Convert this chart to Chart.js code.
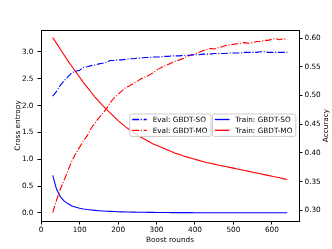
<!DOCTYPE html>
<html>
<head>
<meta charset="utf-8">
<script src="https://cdn.jsdelivr.net/npm/chart.js@4.4.1/dist/chart.umd.min.js"></script>
<style>
  html, body { margin: 0; padding: 0; background: #fff; }
  canvas { display: block; }
</style>
</head>
<body>
<canvas id="chart" width="332" height="249"></canvas>
<script>
// --- data ---

const rounds = [
  30, 40, 50, 60, 70, 80, 90, 100, 110, 120,
  130, 140, 150, 160, 170, 180, 190, 200, 210, 220,
  230, 240, 250, 260, 270, 280, 290, 300, 310, 320,
  330, 340, 350, 360, 370, 380, 390, 400, 410, 420,
  430, 440, 450, 460, 470, 480, 490, 500, 510, 520,
  530, 540, 550, 560, 570, 580, 590, 600, 610, 620,
  630, 640
];

// cross entropy (left axis)
const trainSO = [
  0.70, 0.44, 0.30, 0.22, 0.17, 0.13, 0.105, 0.087, 0.074, 0.063,
  0.055, 0.048, 0.042, 0.037, 0.033, 0.029, 0.026, 0.023, 0.021, 0.019,
  0.017, 0.015, 0.014, 0.013, 0.012, 0.011, 0.010, 0.009, 0.009, 0.008,
  0.008, 0.007, 0.007, 0.007, 0.006, 0.006, 0.006, 0.005, 0.005, 0.005,
  0.005, 0.005, 0.004, 0.004, 0.004, 0.004, 0.004, 0.004, 0.003, 0.003,
  0.003, 0.003, 0.003, 0.003, 0.003, 0.003, 0.003, 0.003, 0.003, 0.003,
  0.003, 0.003
];
const trainMO = [
  3.27, 3.16, 3.05, 2.94, 2.83, 2.73, 2.63, 2.53, 2.43, 2.34,
  2.25, 2.16, 2.08, 2.00, 1.93, 1.86, 1.79, 1.72, 1.66, 1.60,
  1.55, 1.50, 1.45, 1.41, 1.37, 1.33, 1.29, 1.26, 1.23, 1.20,
  1.17, 1.14, 1.11, 1.09, 1.06, 1.04, 1.02, 1.00, 0.98, 0.96,
  0.94, 0.925, 0.91, 0.895, 0.88, 0.865, 0.85, 0.835, 0.82, 0.805,
  0.79, 0.775, 0.76, 0.745, 0.73, 0.715, 0.70, 0.685, 0.67, 0.655,
  0.64, 0.625
];

// accuracy (right axis)
const evalSO = [
  0.499, 0.507, 0.518, 0.526, 0.533, 0.540, 0.542, 0.544, 0.549, 0.550,
  0.552, 0.553, 0.555, 0.556, 0.558, 0.561, 0.561, 0.562, 0.562, 0.563,
  0.564, 0.564, 0.565, 0.565, 0.566, 0.566, 0.567, 0.567, 0.567, 0.568,
  0.568, 0.569, 0.569, 0.569, 0.570, 0.570, 0.570, 0.571, 0.571, 0.572,
  0.572, 0.572, 0.573, 0.573, 0.573, 0.573, 0.574, 0.574, 0.574, 0.574,
  0.575, 0.575, 0.575, 0.575, 0.576, 0.576, 0.575, 0.575, 0.575, 0.575,
  0.575, 0.575
];
const evalMO = [
  0.296, 0.318, 0.337, 0.353, 0.370, 0.386, 0.399, 0.410, 0.421, 0.430,
  0.443, 0.452, 0.461, 0.469, 0.477, 0.488, 0.496, 0.502, 0.508, 0.514,
  0.517, 0.521, 0.525, 0.529, 0.532, 0.535, 0.539, 0.544, 0.548, 0.551,
  0.554, 0.557, 0.560, 0.562, 0.565, 0.568, 0.571, 0.572, 0.575, 0.578,
  0.580, 0.582, 0.581, 0.583, 0.585, 0.587, 0.588, 0.589, 0.590, 0.591,
  0.592, 0.591, 0.592, 0.594, 0.594, 0.596, 0.596, 0.598, 0.599, 0.597,
  0.599, 0.597
];

const xTicks = [0, 100, 200, 300, 400, 500, 600];
const lossTicks = [0, 0.5, 1, 1.5, 2, 2.5, 3];
const accTicks = [0.30, 0.35, 0.40, 0.45, 0.50, 0.55, 0.60];

const FONT = "DejaVu Sans";
const FONT_SIZE = 7.3;
const DASH_DOT = [6.9, 1.7, 1.1, 1.7];

function toPoints(values) {
  return values.map(function (v, i) {
    return { x: rounds[i], y: v };
  });
}

function fixedTicks(list) {
  return function (axis) {
    axis.ticks = list.map(function (v) { return { value: v }; });
  };
}

// --- custom drawing: top spine, right title, the two legend boxes ---

function drawLegendBox(ctx, right, midY, items) {
  const pad = 0.4 * FONT_SIZE;
  const handle = 2.0 * FONT_SIZE;
  const gap = 0.8 * FONT_SIZE;
  ctx.font = FONT_SIZE + "px '" + FONT + "'";
  let textW = 0;
  items.forEach(function (it) {
    textW = Math.max(textW, ctx.measureText(it.label).width);
  });
  const w = pad * 2 + handle + gap + textW;
  const h = 22.4;
  const left = right - w;
  const top = midY - 12;

  ctx.save();
  ctx.beginPath();
  ctx.roundRect(left + 0.5, top + 0.5, w, h, 1.5);
  ctx.fillStyle = "rgba(255,255,255,0.8)";
  ctx.fill();
  ctx.strokeStyle = "#cccccc";
  ctx.lineWidth = 1;
  ctx.stroke();

  items.forEach(function (it, i) {
    const y = midY - 6 + i * 10.8;
    ctx.beginPath();
    ctx.setLineDash(it.dash);
    ctx.strokeStyle = it.color;
    ctx.lineWidth = 1.3;
    ctx.moveTo(left + pad, y);
    ctx.lineTo(left + pad + handle, y);
    ctx.stroke();
    ctx.setLineDash([]);
    ctx.fillStyle = "#000";
    ctx.textAlign = "left";
    ctx.textBaseline = "middle";
    ctx.fillText(it.label, left + pad + handle + gap, y + 0.5);
  });
  ctx.restore();
  return left;
}

const extrasPlugin = {
  id: "extras",
  afterDraw: function (chart) {
    const ctx = chart.ctx;
    const area = chart.chartArea;
    const ds = chart.data.datasets;

    ctx.save();
    ctx.strokeStyle = "#000";
    ctx.lineWidth = 1;
    ctx.beginPath();
    ctx.moveTo(area.left, Math.round(area.top) + 0.5);
    ctx.lineTo(area.right, Math.round(area.top) + 0.5);
    ctx.stroke();

    // right axis title, read bottom to top like matplotlib
    ctx.translate(326, (area.top + area.bottom) / 2);
    ctx.rotate(-Math.PI / 2);
    ctx.font = FONT_SIZE + "px '" + FONT + "'";
    ctx.fillStyle = "#000";
    ctx.textAlign = "center";
    ctx.textBaseline = "middle";
    ctx.fillText("Accuracy", 0, 0);
    ctx.restore();

    const midY = (area.top + area.bottom) / 2;
    function item(d) {
      return { label: d.label, color: d.borderColor, dash: d.borderDash || [] };
    }
    const trainLeft = drawLegendBox(ctx, area.right - 3.7, midY, [item(ds[2]), item(ds[3])]);
    drawLegendBox(ctx, trainLeft - 1.5, midY, [item(ds[0]), item(ds[1])]);
  }
};

// --- chart ---

const tickFont = { family: FONT, size: FONT_SIZE };

const chart = new Chart(document.getElementById("chart"), {
  type: "line",
  data: {
    datasets: [
      { label: "Eval: GBDT-SO", data: toPoints(evalSO), yAxisID: "yAcc", borderColor: "#0000ff", borderDash: DASH_DOT },
      { label: "Eval: GBDT-MO", data: toPoints(evalMO), yAxisID: "yAcc", borderColor: "#ff0000", borderDash: DASH_DOT },
      { label: "Train: GBDT-SO", data: toPoints(trainSO), yAxisID: "yLoss", borderColor: "#0000ff" },
      { label: "Train: GBDT-MO", data: toPoints(trainMO), yAxisID: "yLoss", borderColor: "#ff0000" }
    ]
  },
  options: {
    responsive: false,
    animation: false,
    devicePixelRatio: 1,
    layout: { padding: { top: 30, left: 0, right: 0, bottom: 0 } },
    elements: {
      line: { borderWidth: 1.1, tension: 0, fill: false },
      point: { radius: 0 }
    },
    plugins: {
      legend: { display: false },
      tooltip: { enabled: false }
    },
    scales: {
      x: {
        type: "linear",
        position: "bottom",
        min: -0.5,
        max: 670.5,
        afterBuildTicks: fixedTicks(xTicks),
        afterFit: function (s) { s.height = 28; },
        ticks: { font: tickFont, color: "#000", padding: 1, maxRotation: 0 },
        grid: { drawOnChartArea: false, drawTicks: true, tickLength: 3.5, color: "#000" },
        border: { display: true, color: "#000", width: 1 },
        title: {
          display: true, text: "Boost rounds", color: "#000",
          font: tickFont, padding: { top: 0, bottom: 4.6 }
        }
      },
      yLoss: {
        type: "linear",
        position: "left",
        min: -0.15,
        max: 3.41,
        afterBuildTicks: fixedTicks(lossTicks),
        afterFit: function (s) { s.width = 41; },
        ticks: {
          font: tickFont, color: "#000", padding: 4,
          callback: function (v) { return v.toFixed(1); }
        },
        grid: { drawOnChartArea: false, drawTicks: true, tickLength: 3.5, color: "#000" },
        border: { display: true, color: "#000", width: 1 },
        title: {
          display: true, text: "Cross entropy", color: "#000",
          font: tickFont, padding: { top: 13.6, bottom: 0 }
        }
      },
      yAcc: {
        type: "linear",
        position: "right",
        min: 0.2814,
        max: 0.614,
        afterBuildTicks: fixedTicks(accTicks),
        afterFit: function (s) { s.width = 33; },
        ticks: {
          font: tickFont, color: "#000", padding: 2,
          callback: function (v) { return v.toFixed(2); }
        },
        grid: { drawOnChartArea: false, drawTicks: true, tickLength: 3.5, color: "#000" },
        border: { display: true, color: "#000", width: 1 }
      }
    }
  },
  plugins: [extrasPlugin]
});
</script>
</body>
</html>
